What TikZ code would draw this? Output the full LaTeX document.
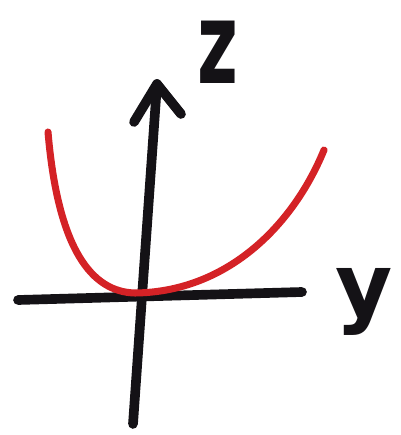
\documentclass[tikz,border=0pt]{standalone}
\usepackage{fontspec}
\setsansfont{DejaVu Sans}
\usetikzlibrary{calc}
\definecolor{ink}{HTML}{141216}
\definecolor{marker}{HTML}{D42226}

\begin{document}
\begin{tikzpicture}[x=0.02cm,y=-0.02cm,
    axis/.style={draw=ink,line width=5.5pt,line cap=round,line join=round},
    curve/.style={draw=marker,line width=4pt,line cap=round},
    axislabel/.style={text=ink,font=\sffamily\bfseries\fontsize{50}{50}\selectfont,inner sep=0pt}]
  \useasboundingbox (0,0) rectangle (401,435);
  % axes
  \coordinate (zbot) at (133,424);
  \coordinate (ztop) at (157,84);
  \coordinate (headl) at (134,122);
  \coordinate (headr) at (181,114);
  \coordinate (yleft) at (18,300);
  \coordinate (yright) at (302,292);
  \draw[axis] (zbot) -- (ztop);
  \draw[axis] (headl) -- (ztop) -- (headr);
  \draw[axis] (yleft) -- (yright);
  % parabola
  \coordinate (pl) at (48,132);
  \coordinate (pmin) at (135,293);
  \coordinate (pr) at (324,150);
  \draw[curve] (pl) .. controls (58,250) and (92,292) .. (pmin)
               .. controls (225,292) and (292,228) .. (pr);
  % labels
  \node[axislabel,xscale=0.8,yscale=1.3] (zlab) at (218,52) {z};
  \node[axislabel] (ylab) at (364,302) {y};
\end{tikzpicture}
\end{document}
